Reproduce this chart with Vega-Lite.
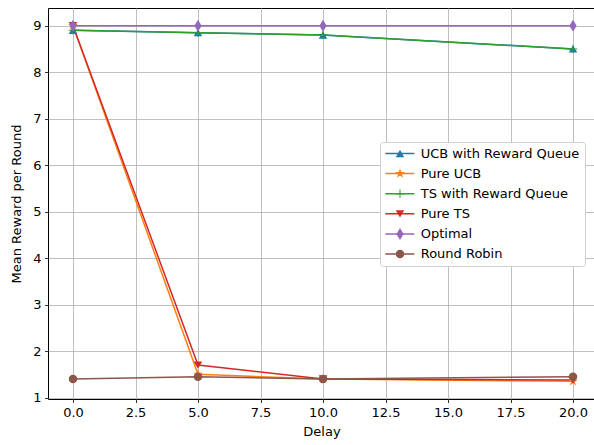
{
  "$schema": "https://vega.github.io/schema/vega-lite/v6.json",
  "width": 547,
  "height": 391,
  "padding": {"left": 48, "top": 8, "right": 0, "bottom": 46},
  "autosize": {"type": "none"},
  "config": {
    "font": "DejaVu Sans",
    "view": {"stroke": "black", "strokeWidth": 1},
    "axis": {
      "domain": false,
      "grid": true,
      "gridColor": "#b0b0b0",
      "gridWidth": 0.8,
      "tickColor": "black",
      "tickSize": 3.5,
      "tickWidth": 0.8,
      "labelColor": "black",
      "labelFontSize": 13,
      "labelFont": "DejaVu Sans",
      "titleFont": "DejaVu Sans",
      "titleFontSize": 13,
      "titleFontWeight": "normal",
      "titleColor": "black",
      "labelPadding": 3.5
    }
  },
  "data": {
    "values": [
      {"series": "UCB with Reward Queue", "order": 1, "delay": 0, "reward": 8.9},
      {"series": "UCB with Reward Queue", "order": 1, "delay": 5, "reward": 8.85},
      {"series": "UCB with Reward Queue", "order": 1, "delay": 10, "reward": 8.8},
      {"series": "UCB with Reward Queue", "order": 1, "delay": 20, "reward": 8.5},
      {"series": "Pure UCB", "order": 2, "delay": 0, "reward": 9.0},
      {"series": "Pure UCB", "order": 2, "delay": 5, "reward": 1.5},
      {"series": "Pure UCB", "order": 2, "delay": 10, "reward": 1.4},
      {"series": "Pure UCB", "order": 2, "delay": 20, "reward": 1.35},
      {"series": "TS with Reward Queue", "order": 3, "delay": 0, "reward": 8.9},
      {"series": "TS with Reward Queue", "order": 3, "delay": 5, "reward": 8.85},
      {"series": "TS with Reward Queue", "order": 3, "delay": 10, "reward": 8.8},
      {"series": "TS with Reward Queue", "order": 3, "delay": 20, "reward": 8.5},
      {"series": "Pure TS", "order": 4, "delay": 0, "reward": 9.0},
      {"series": "Pure TS", "order": 4, "delay": 5, "reward": 1.7},
      {"series": "Pure TS", "order": 4, "delay": 10, "reward": 1.4},
      {"series": "Pure TS", "order": 4, "delay": 20, "reward": 1.38},
      {"series": "Optimal", "order": 5, "delay": 0, "reward": 9.0},
      {"series": "Optimal", "order": 5, "delay": 5, "reward": 9.0},
      {"series": "Optimal", "order": 5, "delay": 10, "reward": 9.0},
      {"series": "Optimal", "order": 5, "delay": 20, "reward": 9.0},
      {"series": "Round Robin", "order": 6, "delay": 0, "reward": 1.4},
      {"series": "Round Robin", "order": 6, "delay": 5, "reward": 1.45},
      {"series": "Round Robin", "order": 6, "delay": 10, "reward": 1.4},
      {"series": "Round Robin", "order": 6, "delay": 20, "reward": 1.45}
    ]
  },
  "encoding": {
    "x": {
      "field": "delay", "type": "quantitative",
      "scale": {"domain": [-1, 20.88], "nice": false, "zero": false},
      "axis": {"title": "Delay", "values": [0, 2.5, 5, 7.5, 10, 12.5, 15, 17.5, 20], "format": ".1f", "titlePadding": 6}
    },
    "y": {
      "field": "reward", "type": "quantitative",
      "scale": {"domain": [0.97, 9.38], "nice": false, "zero": false},
      "axis": {"title": "Mean Reward per Round", "values": [1, 2, 3, 4, 5, 6, 7, 8, 9], "titlePadding": 9}
    }
  },
  "layer": [
    {
      "mark": {"type": "line", "strokeWidth": 1.5},
      "encoding": {
        "stroke": {
          "field": "series", "type": "nominal",
          "sort": {"field": "order"},
          "scale": {
            "range": ["#1f77b4", "#ff7f0e", "#2ca02c", "#d62728", "#9467bd", "#8c564b"]
          },
          "legend": {
            "title": null,
            "orient": "none",
            "legendX": 332,
            "legendY": 134,
            "zindex": 0,
            "symbolType": "M-4.83,0H4.83",
            "symbolSize": 36,
            "symbolStrokeWidth": 1.5,
            "symbolOffset": 8.3,
            "labelOffset": 14.4,
            "labelFontSize": 13,
            "labelFont": "DejaVu Sans",
            "labelColor": "black",
            "clipHeight": 13,
            "rowPadding": 6.1,
            "padding": 5,
            "fillColor": "white",
            "strokeColor": "#d0d0d0",
            "cornerRadius": 3
          }
        }
      }
    },
    {
      "mark": {"type": "point", "filled": true, "opacity": 1, "size": 72},
      "encoding": {
        "color": {
          "field": "series", "type": "nominal",
          "scale": {
            "domain": ["UCB with Reward Queue", "Pure UCB", "TS with Reward Queue", "Pure TS", "Optimal", "Round Robin"],
            "range": ["#1f77b4", "#ff7f0e", "#2ca02c", "#d62728", "#9467bd", "#8c564b"]
          },
          "legend": {
            "title": null,
            "orient": "none",
            "legendX": 332,
            "legendY": 134,
            "zindex": 1,
            "symbolSize": 72,
            "symbolOffset": 8.5,
            "labelOffset": 14.4,
            "labelFontSize": 13,
            "labelFont": "DejaVu Sans",
            "labelColor": "transparent",
            "clipHeight": 13,
            "rowPadding": 6.1,
            "padding": 5
          }
        },
        "shape": {
          "field": "series", "type": "nominal",
          "scale": {
            "domain": ["UCB with Reward Queue", "Pure UCB", "TS with Reward Queue", "Pure TS", "Optimal", "Round Robin"],
            "range": ["triangle-up", "M0,-1.2L0.28,-0.38L1.14,-0.37L0.45,0.15L0.7,0.97L0,0.47L-0.7,0.97L-0.45,0.15L-1.14,-0.37L-0.28,-0.38Z", "M-1,-0.12H-0.12V-1H0.12V-0.12H1V0.12H0.12V1H-0.12V0.12H-1Z", "triangle-down", "M0,-1.41L0.85,0L0,1.41L-0.85,0Z", "circle"]
          },
          "legend": {
            "title": null,
            "orient": "none",
            "legendX": 332,
            "legendY": 134,
            "zindex": 1,
            "symbolSize": 72,
            "symbolOffset": 8.5,
            "labelOffset": 14.4,
            "labelFontSize": 13,
            "labelFont": "DejaVu Sans",
            "labelColor": "transparent",
            "clipHeight": 13,
            "rowPadding": 6.1,
            "padding": 5
          }
        }
      }
    }
  ]
}
